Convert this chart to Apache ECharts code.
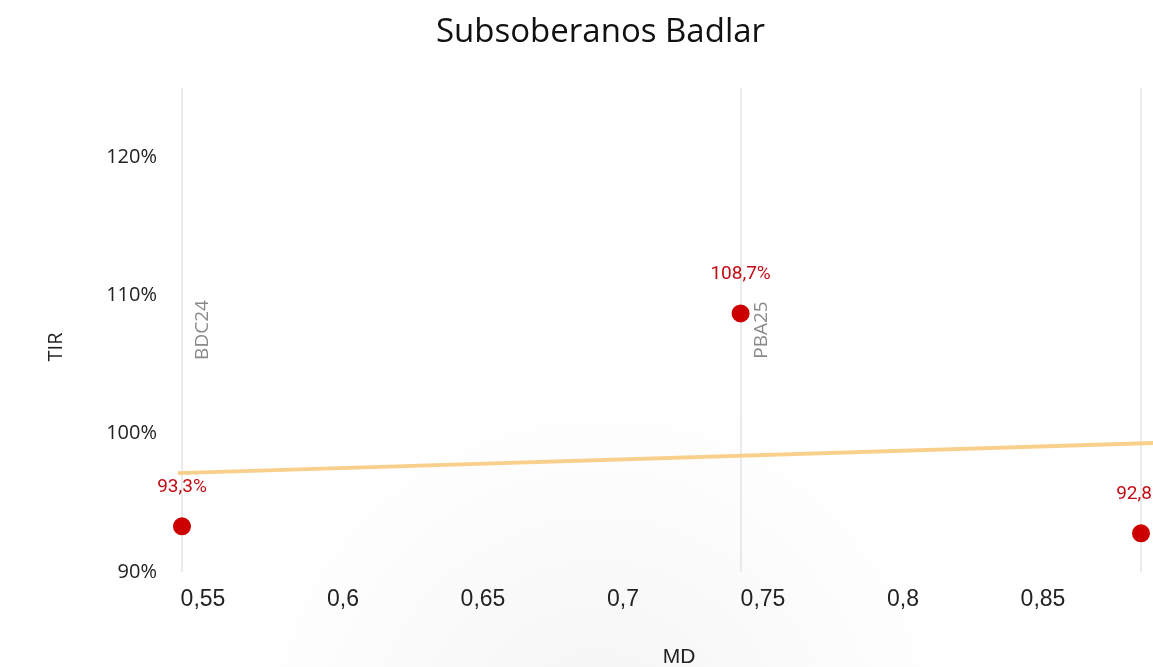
<!DOCTYPE html>
<html>
<head>
<meta charset="utf-8">
<script src="https://cdn.jsdelivr.net/npm/echarts@6/dist/echarts.min.js"></script>
<style>
  html, body { margin: 0; padding: 0; background: #fff; }
  #chart { width: 1153px; height: 667px; }
</style>
</head>
<body>
<div id="chart"></div>
<script>
// bonos (MD, TIR en %)
var tickers = ['BDC24', 'PBA25', 'CO26']
var md = [0.5425, 0.742, 0.885]
var tir = [93.3, 108.7, 92.8]

// linea de tendencia
var trendMd = [0.541, 0.9]
var trendTir = [97.15, 99.4]

var xTicks = [0.55, 0.6, 0.65, 0.7, 0.75, 0.8, 0.85]
var yTicks = [90, 100, 110, 120]
var yMin = 90
var yMax = 125

function coma (v) {
    return String(v).replace('.', ',')
}

var myChart = echarts.init(document.getElementById('chart'))

var option = {
    backgroundColor: new echarts.graphic.RadialGradient(0.52, 1.12, 0.55, [
        { offset: 0, color: '#f4f4f4' },
        { offset: 0.7, color: '#fcfcfc' },
        { offset: 1, color: '#ffffff' }
    ]),
    animation: false,
    title: {
        text: 'Subsoberanos Badlar',
        left: 431,
        top: 11,
        textStyle: {
            fontFamily: 'Open Sans',
            fontSize: 33,
            fontWeight: 'normal',
            color: '#111'
        }
    },
    grid: {
        left: 175,
        right: -30,
        top: 88,
        bottom: 95,
        outerBoundsMode: 'none'
    },
    xAxis: {
        type: 'value',
        min: 0.54,
        max: 0.9,
        name: 'MD',
        nameLocation: 'middle',
        nameGap: 75,
        nameTextStyle: { fontFamily: 'Liberation Sans', fontSize: 21, color: '#222' },
        axisLine: { show: false },
        axisTick: { show: false },
        splitLine: { show: false },
        axisLabel: {
            customValues: xTicks,
            margin: 16,
            fontFamily: 'Liberation Sans',
            fontSize: 23,
            color: '#222',
            formatter: function (v) { return coma(v) }
        }
    },
    yAxis: {
        type: 'value',
        min: yMin,
        max: yMax,
        name: 'TIR',
        nameLocation: 'middle',
        nameGap: 109,
        nameRotate: 90,
        nameTextStyle: { fontFamily: 'Open Sans', fontSize: 20, color: '#222', padding: [0, 34, 0, 0] },
        axisLine: { show: false },
        axisTick: { show: false },
        splitLine: { show: false },
        axisLabel: {
            customValues: yTicks,
            margin: 18,
            fontFamily: 'Open Sans',
            fontSize: 20,
            color: '#222',
            formatter: '{value}%'
        }
    },
    series: [
        {
            name: 'tendencia',
            type: 'line',
            symbol: 'none',
            silent: true,
            z: 1,
            lineStyle: { color: '#f9cf8c', width: 4 },
            data: trendMd.map(function (x, i) { return [x, trendTir[i]] }),
            // lineas verticales de cada bono, debajo de los puntos
            markLine: {
                silent: true,
                z: 1,
                symbol: ['none', 'none'],
                lineStyle: { color: '#e4e4e4', width: 1.5, type: 'solid' },
                label: {
                    show: true,
                    position: 'insideMiddleBottom',
                    distance: 11,
                    fontFamily: 'Open Sans',
                    fontSize: 19,
                    color: '#8a8a8a',
                    formatter: '{b}'
                },
                data: tickers.map(function (t, i) {
                    return [
                        { coord: [md[i], yMin], name: t },
                        { coord: [md[i], yMax] }
                    ]
                })
            }
        },
        {
            name: 'bonos',
            type: 'scatter',
            symbolSize: 18,
            z: 3,
            itemStyle: { color: '#cc0000', opacity: 1 },
            label: {
                show: true,
                position: 'top',
                distance: 21,
                fontFamily: 'Roboto',
                fontSize: 19,
                color: '#c00d14',
                formatter: function (p) { return p.value[1].toFixed(1).replace('.', ',') + '%' }
            },
            data: md.map(function (x, i) { return [x, tir[i]] })
        }
    ]
}

myChart.setOption(option)
</script>
</body>
</html>
